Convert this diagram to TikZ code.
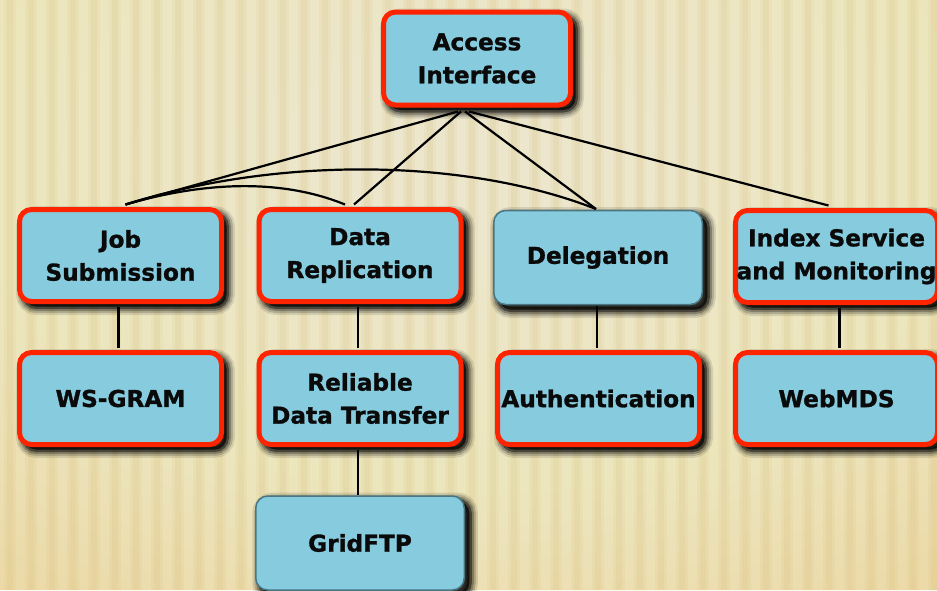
\documentclass[tikz,border=0pt]{standalone}
\usepackage{fontspec}
\setmainfont{DejaVu Sans}
\newfontfamily\labelfont[FakeBold=1.2]{DejaVu Sans Bold}
\usetikzlibrary{shadows}
\definecolor{boxblue}{RGB}{134,204,222}
\definecolor{boxred}{RGB}{255,36,0}
\definecolor{edgegray}{RGB}{72,118,130}
\definecolor{bglight}{RGB}{254,248,222}
\definecolor{bgdark}{RGB}{234,212,150}
\definecolor{stripe}{RGB}{210,176,98}
\definecolor{ink}{RGB}{10,10,10}

\begin{document}
\begin{tikzpicture}[x=1pt,y=-1pt,
  shadowring/.style 2 args={general shadow={shadow xshift=5pt, shadow yshift=-5pt,
    fill=black, draw=black, line width=#1, opacity=#2}},
  softshadow/.style={shadowring={17pt}{0.10}, shadowring={13pt}{0.16},
    shadowring={9pt}{0.25}, shadowring={5pt}{0.45}},
  box/.style={softshadow, rounded corners=12pt, fill=boxblue, align=center, inner sep=0pt,
    text=ink, font=\fontsize{23.2}{33}\selectfont\labelfont},
  redbox/.style={box, draw=boxred, line width=5pt,
    minimum width=202pt, minimum height=92pt},
  plainbox/.style={box, draw=edgegray, line width=1.5pt,
    minimum width=208.5pt, minimum height=94pt},
  wire/.style={draw=black, line width=2.2pt}]

\useasboundingbox (0,0) rectangle (937,590);

% striped paper background, lighter towards the upper middle
\begin{scope}
  \clip (0,0) rectangle (937,590);
  \fill[bgdark] (0,0) rectangle (937,590);
  \foreach \r in {760,740,...,80} {
    \fill[bglight, opacity=0.055] (470,160) ellipse ({\r*1.2} and {\r*0.8});
  }
  \foreach \i in {0,...,45} {
    \fill[stripe, opacity=0.09] (\i*21+4,0) rectangle ++(12,590);
    \fill[stripe, opacity=0.11] (\i*21+7,0) rectangle ++(6,590);
  }
\end{scope}

% components
\node[redbox, minimum width=187pt, minimum height=93pt] (ai) at (477,58.5) {Access\\Interface};
\node[redbox]   (js)  at (120.5,255.5) {Job\\Submission};
\node[redbox]   (dr)  at (360,255.5)   {Data\\Replication};
\node[plainbox] (de)  at (598,257.5)   {Delegation};
\node[redbox]   (is)  at (836.5,256.5) {Index Service\\and Monitoring};
\node[redbox]   (ws)  at (120.5,398.5) {WS-GRAM};
\node[redbox]   (rdt) at (360,398.5)   {Reliable\\Data Transfer};
\node[redbox]   (au)  at (598.5,398.5) {Authentication};
\node[redbox]   (wm)  at (836.5,398.5) {WebMDS};
\node[plainbox] (gf)  at (360,543)     {GridFTP};

% dependencies, ending on the outer edge of each frame
\begin{scope}[every path/.style={wire}]
  \draw ([xshift=-19pt,yshift=-4pt]ai.south) -- ([xshift=5pt,yshift=2.5pt]js.north);
  \draw ([xshift=-16pt,yshift=-4pt]ai.south) -- ([xshift=-6pt,yshift=2.5pt]dr.north);
  \draw ([xshift=-12pt,yshift=-4pt]ai.south) -- ([xshift=-2pt,yshift=0.75pt]de.north);
  \draw ([xshift=-8pt,yshift=-4pt]ai.south)  -- ([xshift=-8pt,yshift=2.5pt]is.north);
  \draw ([xshift=5pt,yshift=2.5pt]js.north) .. controls (275,157) and (463,157) .. ([xshift=-2pt,yshift=0.75pt]de.north);
  \draw ([xshift=5pt,yshift=2.5pt]js.north) .. controls (210,180) and (285,180) .. ([xshift=-15pt,yshift=2.5pt]dr.north);
  \draw ([xshift=-2pt,yshift=-2.5pt]js.south) -- ([xshift=-2pt,yshift=2.5pt]ws.north);
  \draw ([xshift=-2pt,yshift=-2.5pt]dr.south) -- ([xshift=-2pt,yshift=2.5pt]rdt.north);
  \draw ([xshift=-2pt,yshift=-2.5pt]rdt.south) -- ([xshift=-2pt,yshift=0.75pt]gf.north);
  \draw ([xshift=-1pt,yshift=-0.75pt]de.south) -- ([xshift=-1.5pt,yshift=2.5pt]au.north);
  \draw ([xshift=3pt,yshift=-2.5pt]is.south) -- ([xshift=3pt,yshift=2.5pt]wm.north);
\end{scope}
\end{tikzpicture}
\end{document}
